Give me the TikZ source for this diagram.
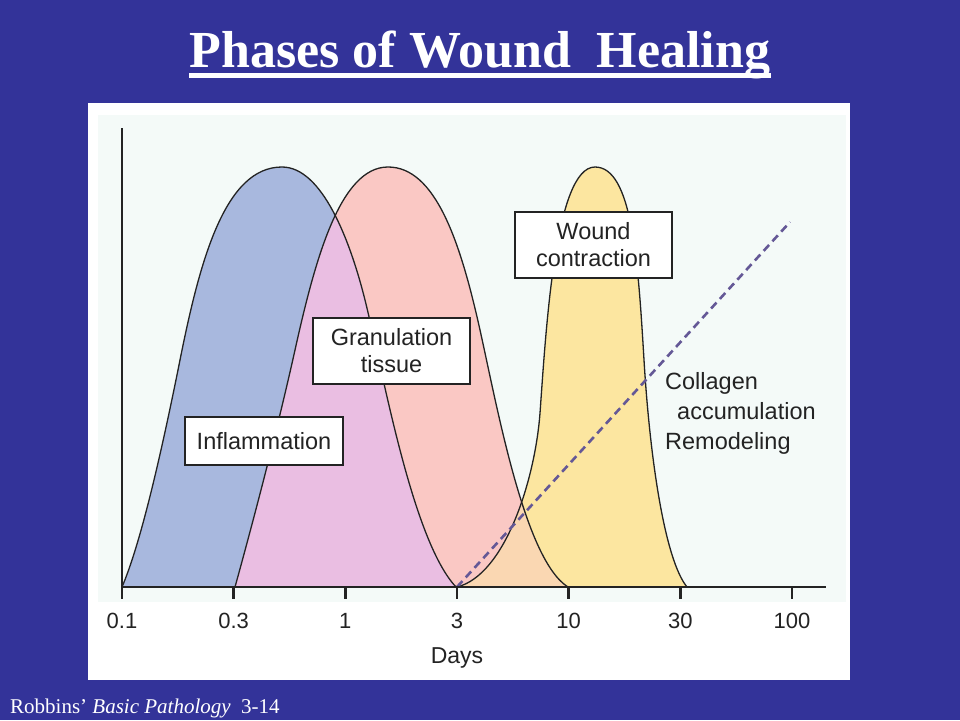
\documentclass[tikz,border=0pt]{standalone}
\usepackage{fontspec}
\setmainfont{Liberation Serif}
\newfontfamily\chartfont{Liberation Sans}
\usetikzlibrary{positioning, calc}
\definecolor{bgblue}{RGB}{51,51,153}
\definecolor{paper}{RGB}{244,250,248}
\definecolor{inkgray}{RGB}{35,35,35}
\definecolor{inflblue}{RGB}{168,184,222}
\definecolor{granpink}{RGB}{250,200,196}
\definecolor{mixpink}{RGB}{234,190,226}
\definecolor{woundyellow}{RGB}{252,230,160}
\definecolor{mixpeach}{RGB}{250,215,178}
\definecolor{dashpurple}{RGB}{100,88,150}
\newcommand{\inflcurve}{(122,587) .. controls (140,545) and (160,460) .. (180,360)
  .. controls (200,260) and (225,167) .. (282,167)
  .. controls (322,167) and (350,240) .. (365,300)
  .. controls (383,372) and (412,540) .. (456,587)}
\newcommand{\grancurve}{(235,587) .. controls (248,540) and (275,440) .. (295,350)
  .. controls (315,260) and (340,167) .. (388,167)
  .. controls (435,167) and (460,240) .. (480,330)
  .. controls (498,411) and (525,560) .. (568,587)}
\newcommand{\woundcurve}{(457,587) .. controls (505,575) and (535,480) .. (540,413)
  .. controls (546,330) and (555,167) .. (595,167)
  .. controls (632,167) and (638,260) .. (644,360)
  .. controls (650,460) and (665,560) .. (687,587)}

\begin{document}
\begin{tikzpicture}[x=1pt, y=-1pt,
    labelbox/.style={draw=inkgray, line width=1.2pt, fill=white, text=inkgray,
      font=\chartfont\fontsize{23.5}{27}\selectfont, align=center, inner sep=0pt},
    curve/.style={draw=inkgray, line width=1.3pt},
    axis/.style={draw=inkgray, line width=2.5pt},
    ticklab/.style={font=\chartfont\fontsize{22}{26}\selectfont, text=inkgray}]
  \useasboundingbox (0,0) rectangle (960,720);
  \fill[bgblue] (0,0) rectangle (960,720);
  \fill[white] (88,103) rectangle (850,680);
  \fill[paper] (98,115) rectangle (846,602);

  % title and source line
  \node[anchor=base, text=white, inner sep=0pt,
    font=\fontsize{52}{60}\selectfont\bfseries] (title) at (480,67)
    {Phases of Wound~ Healing};
  \fill[white] ($(title.base west)+(0,6)$) rectangle ($(title.base east)+(0,10.5)$);
  \node[anchor=base west, text=white, inner sep=0pt,
    font=\fontsize{21}{24}\selectfont] (source) at (10,713)
    {Robbins’ \textit{Basic Pathology}~ 3-14};

  % phases
  \fill[inflblue] \inflcurve -- cycle;
  \fill[granpink] \grancurve -- cycle;
  \begin{scope}
    \clip \inflcurve -- cycle;
    \fill[mixpink] \grancurve -- cycle;
  \end{scope}
  \fill[woundyellow] \woundcurve -- cycle;
  \begin{scope}
    \clip \grancurve -- cycle;
    \fill[mixpeach] \woundcurve -- cycle;
  \end{scope}
  \draw[curve] \inflcurve;
  \draw[curve] \grancurve;
  \draw[curve] \woundcurve;

  % collagen line
  \coordinate (cstart) at (457,587);
  \coordinate (cend) at (790,222);
  \draw[dashpurple, line width=2.6pt, dash pattern=on 8pt off 5pt] (cstart) -- (cend);

  % axes
  \coordinate (origin) at (122,587);
  \draw[axis] (122,128) -- (origin) -- (826,587);
  \foreach \lab [count=\i] in {0.1,0.3,1,3,10,30,100} {
    \draw[axis] ({122+(\i-1)*111.67},587) -- ++(0,12);
    \node[ticklab] (t\i) at ({122+(\i-1)*111.67},621) {\lab};
  }
  \node[ticklab, font=\chartfont\fontsize{23}{26}\selectfont, below=12pt of t4] (days) {Days};

  % labels
  \node[labelbox, minimum width=158pt, minimum height=48pt] (infl) at (264,441)
    {Inflammation};
  \node[labelbox, minimum width=157pt, minimum height=66pt] (gran) at (391.5,351)
    {Granulation\\tissue};
  \node[labelbox, minimum width=157pt, minimum height=66pt] (wound) at (593.5,245)
    {Wound\\contraction};
  \node[anchor=west, inner sep=0pt, align=left, text=inkgray,
    font=\chartfont\fontsize{23.5}{30}\selectfont] (collagen) at (665,413)
    {Collagen\\\hspace*{12pt}accumulation\\Remodeling};
\end{tikzpicture}
\end{document}
